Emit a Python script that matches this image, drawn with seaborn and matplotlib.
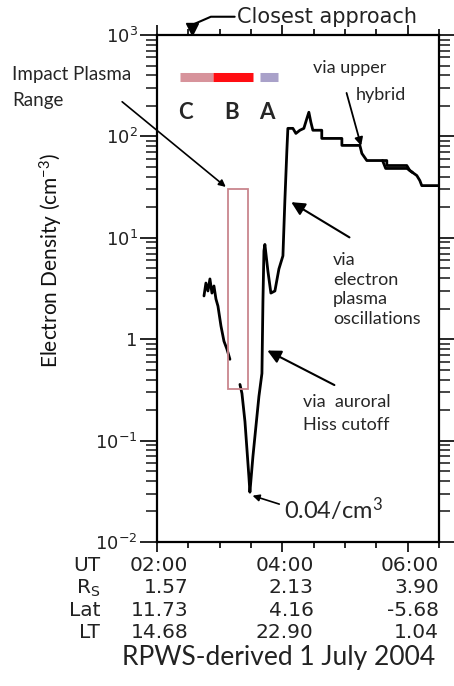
import numpy as np
import pandas as pd
import seaborn as sns
import matplotlib.pyplot as plt
from matplotlib.patches import Rectangle
import matplotlib.transforms as mtransforms

# time in decimal hours UT, density in cm^-3
t_early = [2.750, 2.781, 2.813, 2.845, 2.877, 2.909, 2.941, 2.973, 3.021, 3.069, 3.116, 3.164]
n_early = [2.67, 3.58, 2.99, 3.93, 2.85, 3.35, 2.49, 2.12, 1.35, 0.955, 0.80, 0.634]

t_main = [3.324, 3.356, 3.404, 3.435, 3.467, 3.483, 3.531, 3.579, 3.627, 3.675, 3.691,
          3.707, 3.722, 3.770, 3.818, 3.882, 3.946, 4.010, 4.041, 4.073, 4.089,
          4.169, 4.217, 4.281, 4.344, 4.392, 4.424, 4.456, 4.488, 4.630, 4.630,
          4.951, 4.951, 5.238, 5.270, 5.349, 5.668, 5.668, 5.987, 6.035, 6.147,
          6.195, 6.226, 6.500]
n_main = [0.358, 0.292, 0.154, 0.0833, 0.044, 0.031, 0.0695, 0.138, 0.273, 0.46, 2.38,
          7.43, 8.6, 4.71, 2.85, 2.99, 4.93, 6.64, 23.2, 72.6, 120,
          120, 107, 115, 120, 150, 173, 138, 115, 115, 95.5,
          95.5, 81.5, 81.5, 67.9, 57.8, 57.8, 51.6, 51.6, 46.1, 41.1,
          36.7, 32.7, 32.7]

t_double = [5.600, 5.650, 5.990, 6.080]
n_double = [57.8, 48.3, 48.3, 44.0]

# impact plasma regions C, B, A
region_names = ["C", "B", "A"]
region_start = [2.367, 2.893, 3.643]
region_end = [2.893, 3.531, 3.930]
region_colors = ["#d7939b", "#ff0d12", "#a9a1c9"]

impact_range = (0.32, 30.5)
impact_time = (3.132, 3.451)
closest_approach = 2.56

row_names = ["UT", "R$_S$", "Lat", "LT"]
col_times = [2.0, 4.0, 6.0]
table_rows = [["02:00", "04:00", "06:00"],
              ["1.57", "2.13", "3.90"],
              ["11.73", "4.16", "-5.68"],
              ["14.68", "22.90", "1.04"]]

sns.set_style("ticks")
plt.rcParams["font.family"] = ["Lato", "DejaVu Sans"]
plt.rcParams["mathtext.default"] = "regular"

df = pd.concat([
    pd.DataFrame({"t": t_early, "n": n_early, "seg": "early"}),
    pd.DataFrame({"t": t_main, "n": n_main, "seg": "main"}),
    pd.DataFrame({"t": t_double, "n": n_double, "seg": "double"}),
])

fig = plt.figure(figsize=(4.54, 6.86), dpi=100)
ax = fig.add_axes([0.3458, 0.2099, 0.621, 0.7391])

sns.lineplot(data=df, x="t", y="n", units="seg", estimator=None, sort=False,
             color="black", lw=2.0, ax=ax)

ax.set_yscale("log")
ax.set_xlim(2.0, 6.5)
ax.set_ylim(1e-2, 1e3)
for s in ax.spines.values():
    s.set_visible(True)
    s.set_linewidth(1.6)
    s.set_color("black")

ax.set_yticks([1e-2, 1e-1, 1, 1e1, 1e2, 1e3])
ax.set_yticklabels(["10$^{-2}$", "10$^{-1}$", "1", "10$^{1}$", "10$^{2}$", "10$^{3}$"],
                   family="DejaVu Sans", fontsize=13, color="#222222")
ax.yaxis.set_minor_locator(plt.matplotlib.ticker.LogLocator(base=10, subs=np.arange(2, 10), numticks=20))
ax.yaxis.set_minor_formatter(plt.NullFormatter())
ax.tick_params(axis="y", which="major", direction="out", length=12, width=1.4,
               left=True, right=True, pad=2)
ax.tick_params(axis="y", which="minor", direction="out", length=8, width=1.2,
               left=True, right=True)
ax.set_xticks(col_times)
ax.set_xticks(np.arange(2.0, 6.51, 0.5), minor=True)
ax.set_xticklabels([])
ax.tick_params(axis="x", which="major", direction="out", length=7, width=1.4,
               top=True, bottom=True)
ax.tick_params(axis="x", which="minor", direction="out", length=4, width=1.4,
               top=True, bottom=True)
ax.set_xlabel("")
ax.set_ylabel("Electron Density (cm$^{-3}$)", fontsize=15, color="#111111")
ax.yaxis.set_label_coords(-0.326, 0.556)

# impact plasma range box
ax.add_patch(Rectangle((impact_time[0], impact_range[0]), impact_time[1] - impact_time[0],
                       impact_range[1] - impact_range[0], fill=False,
                       edgecolor="#c9868d", lw=1.3, zorder=3))

# region bars and labels
ax.hlines([384] * 3, region_start, region_end, colors=region_colors, lw=6.5)
for name, x in zip(region_names, [2.447, 3.196, 3.754]):
    ax.text(x, 173, name, ha="center", va="center", fontsize=16, fontweight="bold")

# closest approach marker
trans = mtransforms.blended_transform_factory(ax.transData, ax.transAxes)
ax.plot([closest_approach], [1.012], marker="v", ms=9, color="black",
        transform=trans, clip_on=False)
ax.plot([2.60, 2.86, 3.24], [1.022, 1.036, 1.036], color="black", lw=1.5,
        transform=trans, clip_on=False)
ax.text(3.27, 1.036, "Closest approach", transform=trans, family="DejaVu Sans",
        fontsize=15, va="center", ha="left", color="#222222")

# annotations
ax.annotate("", xy=(3.132, 30.5), xytext=(120, 586), textcoords="figure pixels",
            arrowprops=dict(arrowstyle="-|>", color="black", lw=1.2, mutation_scale=10))
fig.text(0.026, 0.891, "Impact Plasma", fontsize=13.5, va="center")
fig.text(0.026, 0.854, "Range", fontsize=13.5, va="center")

ax.text(4.488, 471, "via upper", fontsize=13, va="center")
ax.text(5.174, 255, "hybrid", fontsize=13, va="center")
ax.annotate("", xy=(5.27, 76), xytext=(5.014, 285),
            arrowprops=dict(arrowstyle="-|>", color="black", lw=1.3, mutation_scale=12))

ax.text(4.807, 3.09, "via\nelectron\nplasma\noscillations", fontsize=13,
        va="center", linespacing=1.27)
ax.annotate("", xy=(4.105, 23.2), xytext=(5.11, 9.77),
            arrowprops=dict(arrowstyle="-|>", color="black", lw=1.5, mutation_scale=20))

ax.text(4.329, 0.243, "via  auroral", fontsize=13, va="center")
ax.text(4.329, 0.144, "Hiss cutoff", fontsize=13, va="center")
ax.annotate("", xy=(3.722, 0.796), xytext=(4.871, 0.343),
            arrowprops=dict(arrowstyle="-|>", color="black", lw=1.5, mutation_scale=20))

ax.text(4.025, 0.0212, "0.04/cm$^3$", fontsize=17, va="center")
ax.annotate("", xy=(3.483, 0.0292), xytext=(3.994, 0.0232),
            arrowprops=dict(arrowstyle="-|>", color="black", lw=1.2, mutation_scale=10))

# ephemeris table under the axis
row_y = [-0.0473, -0.0907, -0.1341, -0.1775]
for name, y, row in zip(row_names, row_y, table_rows):
    ax.text(1.091, y, name, transform=trans, ha="right", va="center",
            family="DejaVu Sans", fontsize=14.5, color="#222222")
    for x, val in zip(col_times, row):
        ax.text(x + 0.5, y, val, transform=trans, ha="right", va="center",
                family="DejaVu Sans", fontsize=14.5, color="#222222")

fig.text(0.614, 0.042, "RPWS-derived 1 July 2004", ha="center", va="center",
         fontsize=19, color="#222222")

fig.savefig("out.png", dpi=100)
